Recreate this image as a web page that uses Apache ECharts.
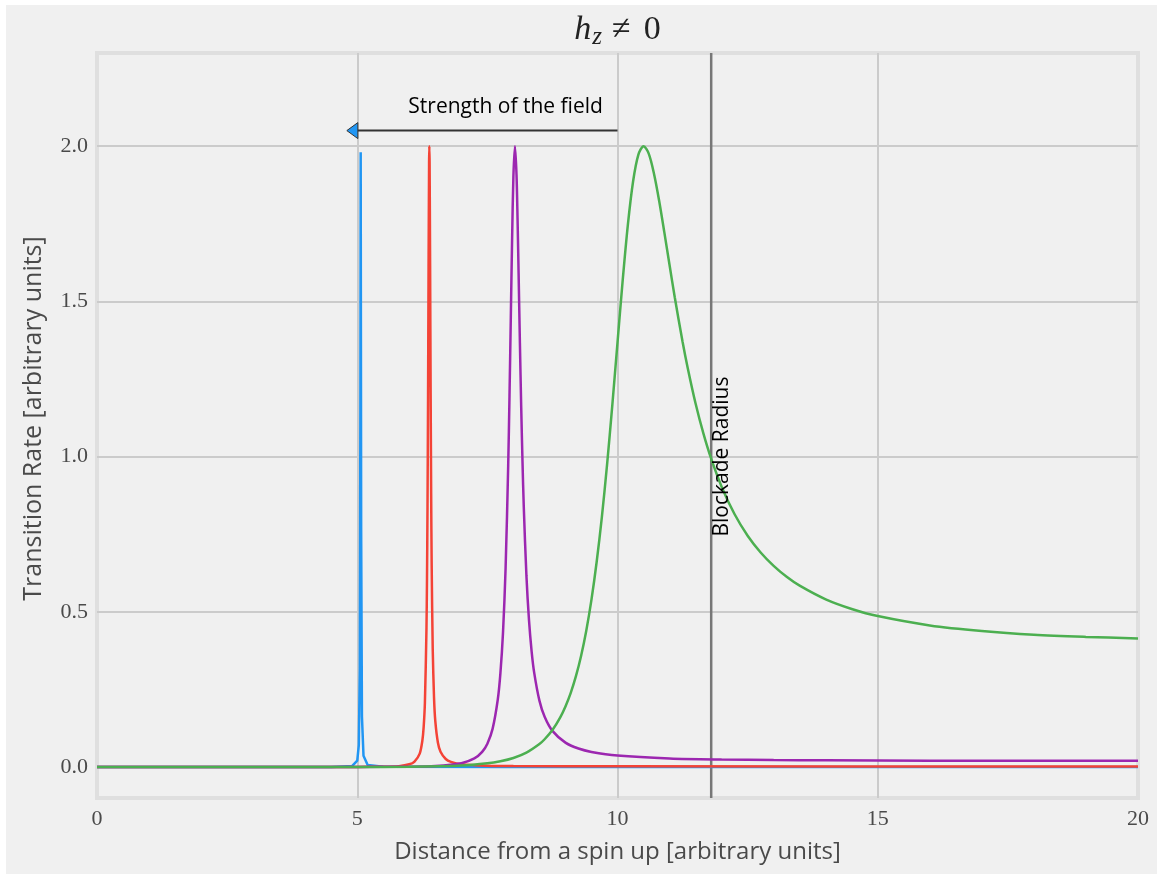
<!DOCTYPE html>
<html>
<head>
<meta charset="utf-8">
<script src="https://cdn.jsdelivr.net/npm/echarts@6/dist/echarts.min.js"></script>
<style>
  html, body { margin: 0; padding: 0; background: #ffffff; }
  #chart { position: absolute; left: 6px; top: 5px; width: 1151px; height: 869px; background: #f0f0f0; }
</style>
</head>
<body>
<div id="chart"></div>
<script>
// Transition rate vs. distance for four field strengths (arbitrary units)
const xTicks = [0, 5, 10, 15, 20];
const yTicks = [0.0, 0.5, 1.0, 1.5, 2.0];

const blueRate = [
  [0, 0], [4.5, 0.0001], [4.9, 0.0028], [5.0, 0.0205], [5.03, 0.0701], [5.05, 0.318],
  [5.06, 1.154], [5.066, 1.98], [5.075, 0.765], [5.09, 0.163], [5.12, 0.0359],
  [5.2, 0.0066], [5.5, 0.0009], [8, 0.0002], [20, 0.0001]
];

const redRate = [
  [0, 0], [5, 0.0002], [5.5, 0.0008], [5.8, 0.0027], [6.0, 0.0085], [6.1, 0.0175],
  [6.2, 0.0429], [6.25, 0.0836], [6.275, 0.1266], [6.3, 0.2087], [6.33, 0.4467],
  [6.34, 0.606], [6.35, 0.841], [6.36, 1.18], [6.37, 1.603], [6.38, 1.947], [6.385, 2.0],
  [6.39, 1.947], [6.40, 1.614], [6.41, 1.207], [6.42, 0.879], [6.43, 0.648], [6.45, 0.380],
  [6.475, 0.2235], [6.5, 0.1467], [6.55, 0.0779], [6.6, 0.049], [6.7, 0.0256],
  [6.8, 0.0164], [7.0, 0.009], [7.5, 0.0042], [8, 0.003], [10, 0.0019], [20, 0.0016]
];

const purpleRate = [
  [0, 0], [4, 0], [5, 0.0001], [6, 0.0009], [6.5, 0.0031], [7, 0.0122], [7.25, 0.0275],
  [7.4, 0.0487], [7.5, 0.0751], [7.6, 0.1226], [7.7, 0.2173], [7.75, 0.3016], [7.8, 0.432],
  [7.85, 0.640], [7.9, 0.971], [7.925, 1.194], [7.95, 1.446], [7.975, 1.699], [8.0, 1.902],
  [8.03, 2.0], [8.06, 1.907], [8.08, 1.764], [8.1, 1.590], [8.125, 1.366], [8.15, 1.159],
  [8.175, 0.982], [8.2, 0.835], [8.25, 0.617], [8.3, 0.472], [8.35, 0.3726], [8.4, 0.303],
  [8.5, 0.2136], [8.6, 0.1616], [8.75, 0.1162], [9, 0.0783], [9.25, 0.0593], [9.5, 0.0484],
  [10, 0.0367], [11, 0.0274], [12, 0.0239], [13, 0.0222], [14, 0.0213], [16, 0.0204],
  [18, 0.0201], [20, 0.0200]
];

const greenRate = [
  [0, 0], [3, 0], [5, 0.0001], [6, 0.0007], [7, 0.0046], [7.5, 0.0117], [7.75, 0.0184],
  [8, 0.029], [8.25, 0.0462], [8.5, 0.074], [8.6, 0.0893], [8.75, 0.119], [8.9, 0.1598],
  [9, 0.195], [9.1, 0.238], [9.2, 0.2917], [9.3, 0.3577], [9.4, 0.439], [9.5, 0.539],
  [9.6, 0.661], [9.7, 0.8056], [9.8, 0.975], [9.9, 1.165], [10, 1.367], [10.1, 1.568],
  [10.2, 1.748], [10.3, 1.887], [10.4, 1.972], [10.5, 2.0], [10.6, 1.976], [10.7, 1.912],
  [10.8, 1.824], [10.9, 1.722], [11, 1.617], [11.1, 1.513], [11.25, 1.370], [11.35, 1.2847],
  [11.5, 1.171], [11.65, 1.0747], [11.8, 0.993], [12, 0.903], [12.25, 0.814], [12.5, 0.745],
  [12.75, 0.691], [13, 0.648], [13.25, 0.6127], [13.5, 0.584], [14, 0.540], [14.5, 0.509],
  [15, 0.486], [16, 0.456], [17, 0.438], [18, 0.426], [19, 0.419], [20, 0.414]
];

const blockadeRadius = 11.8;
const fieldArrow = [[10, 2.05], [4.8, 2.05]];
const fieldLabel = { text: 'Strength of the field', at: [7.85, 2.125] };
const blockadeLabel = { text: 'Blockade Radius', at: [blockadeRadius, 1.0] };

const serif = 'Liberation Serif';
const sans = 'Open Sans';
const tickColor = '#4a4a4a';

const chart = echarts.init(document.getElementById('chart'), null, { renderer: 'canvas' });

function curve(name, data, color, smooth) {
  return {
    name, type: 'line', data, symbol: 'none', showSymbol: false, smooth,
    lineStyle: { color, width: 2.5 }, z: 3, silent: true
  };
}

chart.setOption({
  animation: false,
  backgroundColor: '#f0f0f0',
  grid: {
    left: 91, right: 19, top: 48, bottom: 76, outerBoundsMode: 'none', containLabel: false,
    show: true, backgroundColor: '#f0f0f0', borderColor: '#dfdfdf', borderWidth: 4
  },
  xAxis: {
    type: 'value', min: xTicks[0], max: xTicks[xTicks.length - 1], interval: 5,
    axisLine: { show: false }, axisTick: { show: false },
    splitLine: { show: true, showMinLine: false, showMaxLine: false, lineStyle: { color: '#cbcbcb', width: 2 } },
    axisLabel: { margin: 10, color: tickColor, fontFamily: serif, fontSize: 22, formatter: v => String(v) },
    name: 'Distance from a spin up [arbitrary units]', nameLocation: 'middle', nameGap: 42,
    nameTextStyle: { fontFamily: sans, fontSize: 24, color: '#4a4a4a' }
  },
  yAxis: {
    type: 'value', min: -0.1, max: 2.3,
    axisLine: { show: false }, axisTick: { show: false },
    splitLine: { show: true, showMinLine: false, showMaxLine: false, lineStyle: { color: '#cbcbcb', width: 2 } },
    axisLabel: {
      margin: 9, color: tickColor, fontFamily: serif, fontSize: 22,
      showMinLabel: false, showMaxLabel: false,
      formatter: v => (yTicks.some(t => Math.abs(t - v) < 1e-9) ? v.toFixed(1) : '')
    },
    name: 'Transition Rate [arbitrary units]', nameLocation: 'middle', nameGap: 51,
    nameTextStyle: { fontFamily: sans, fontSize: 25, color: '#4a4a4a', padding: [0, 0, 0, 14] }
  },
  series: [
    {
      name: 'blockade', type: 'line', data: [[blockadeRadius, -0.1], [blockadeRadius, 2.3]],
      symbol: 'none', lineStyle: { color: '#777777', width: 2.5 }, z: 2, silent: true
    },
    curve('h1', blueRate, '#2196f3', false),
    curve('h2', redRate, '#f44336', 0.25),
    curve('h3', purpleRate, '#9c27b0', 0.3),
    curve('h4', greenRate, '#4caf50', 0.3),
    {
      name: 'arrow', type: 'line', data: [fieldArrow[0], [fieldArrow[1][0] + 0.2, fieldArrow[1][1]]],
      symbol: 'none', lineStyle: { color: '#333333', width: 2 }, z: 4, silent: true
    }
  ]
});

const px = pt => chart.convertToPixel({ gridIndex: 0 }, pt);
const tip = px(fieldArrow[1]);
const lblField = px(fieldLabel.at);
const lblBlock = px(blockadeLabel.at);
const titleX = px([10, 0])[0];

chart.setOption({
  graphic: [
    {
      type: 'polygon', z: 10,
      shape: { points: [[tip[0], tip[1]], [tip[0] + 11, tip[1] - 8], [tip[0] + 11, tip[1] + 8]] },
      style: { fill: '#2196f3', stroke: '#333333', lineWidth: 1 }
    },
    {
      type: 'text', z: 10, x: lblField[0], y: lblField[1],
      style: { text: fieldLabel.text, font: '21px ' + sans, fill: '#000000', align: 'center', verticalAlign: 'middle' }
    },
    {
      type: 'text', z: 10, x: lblBlock[0] + 11, y: lblBlock[1], rotation: Math.PI / 2,
      style: { text: blockadeLabel.text, font: '21px ' + sans, fill: '#000000', align: 'center', verticalAlign: 'middle' }
    },
    {
      type: 'text', z: 10, x: titleX, y: 25,
      style: {
        text: '{h|h}{z|z}{n|≠}{o|0}', align: 'center', verticalAlign: 'middle', fill: '#222222',
        rich: {
          h: { fontFamily: serif, fontStyle: 'italic', fontSize: 34, fill: '#222222', lineHeight: 38 },
          z: { fontFamily: serif, fontStyle: 'italic', fontSize: 25, fill: '#222222', lineHeight: 38, padding: [15, 10, 0, 1] },
          n: { fontFamily: serif, fontSize: 34, fill: '#222222', lineHeight: 38 },
          o: { fontFamily: serif, fontSize: 34, fill: '#222222', lineHeight: 38, padding: [0, 0, 0, 13] }
        }
      }
    }
  ]
});
</script>
</body>
</html>
